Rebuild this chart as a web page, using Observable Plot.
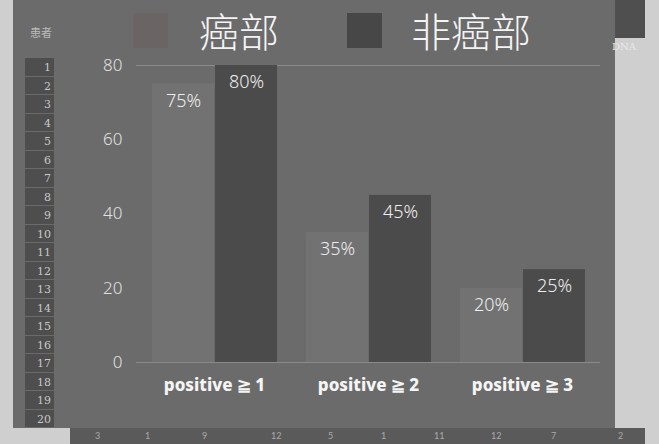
<!DOCTYPE html>
<html>
<head>
<meta charset="utf-8">
<script src="https://cdn.jsdelivr.net/npm/d3@7"></script>
<script src="https://cdn.jsdelivr.net/npm/@observablehq/plot@0.6"></script>
<style>
  html, body { margin: 0; padding: 0; }
  body { width: 659px; height: 444px; position: relative; overflow: hidden; background: #cfcfcf; font-family: Lato, "Open Sans", sans-serif; }
  .abs { position: absolute; }
  #panel { left: 13px; top: 0; width: 602px; height: 428px; background: #6b6b6b; }
  #rows { left: 25px; top: 58px; width: 29px; height: 370px; background: #4e4e4e; }
  #rows div { height: 18.5px; line-height: 19.5px; text-align: right; padding-right: 3px; font-size: 11px; color: #c8c8c8; border-bottom: 1px solid #6a6a6a; box-sizing: border-box; font-family: "DejaVu Serif", serif; }
  #head { left: 30px; top: 24px; font-size: 11px; color: #bbb; font-family: "Noto Sans CJK SC", sans-serif; }
  #bottom { left: 70px; top: 428px; width: 575px; height: 16px; background: #5a5a5a; }
  #bottom span { position: absolute; top: 2px; font-size: 9px; color: #aaa; }
  #dna { left: 615px; top: 0; width: 30px; height: 38px; background: #4f4f4f; }
  #dnat { left: 612px; top: 41px; font-size: 10px; color: #e8e8e8; font-family: "DejaVu Serif", serif; }
  #legend { left: 0; top: 0; width: 659px; height: 55px; }
  .sw { position: absolute; width: 35px; height: 35px; }
  .lt { position: absolute; top: 8px; font-size: 40px; line-height: 44px; white-space: nowrap; color: #f4f4f4; font-family: "Noto Sans CJK SC", sans-serif; font-weight: 300; }
  #chart { left: 0; top: 55px; }
</style>
</head>
<body>
<div id="panel" class="abs"></div>
<div id="head" class="abs">患者</div>
<div id="rows" class="abs"></div>
<div id="bottom" class="abs"></div>
<div id="dna" class="abs"></div>
<div id="dnat" class="abs">DNA</div>
<div id="legend" class="abs"></div>
<div id="chart" class="abs"></div>
<script>
// ---- data ----
const groups = ["positive ≧ 1", "positive ≧ 2", "positive ≧ 3"];
const series = ["癌部", "非癌部"];
const cancerValues = [75, 35, 20];
const nonCancerValues = [80, 45, 25];
const yTicks = [0, 20, 40, 60, 80];
const rowLabels = ["1","2","3","4","5","6","7","8","9","10","11","12","13","14","15","16","17","18","19","20"];
const bottomLabels = ["3","1","9","12","5","1","11","12","7","2"];

const colors = ["#727272", "#4b4b4b"];
const legendSwatchColors = ["#6a6464", "#474747"];

// background spreadsheet decoration
const rows = document.getElementById("rows");
rowLabels.forEach(t => { const d = document.createElement("div"); d.textContent = t; rows.appendChild(d); });
const bottom = document.getElementById("bottom");
const bottomX = [25, 75, 132, 201, 258, 311, 364, 421, 481, 548];
bottomLabels.forEach((t, i) => { const s = document.createElement("span"); s.textContent = t; s.style.left = bottomX[i] + "px"; bottom.appendChild(s); });

// legend
const legend = document.getElementById("legend");
const legendPos = [{sw: 133, tx: 199}, {sw: 347, tx: 411}];
series.forEach((s, i) => {
  const sw = document.createElement("div");
  sw.className = "sw"; sw.style.left = legendPos[i].sw + "px"; sw.style.top = "13px";
  sw.style.background = legendSwatchColors[i];
  legend.appendChild(sw);
  const t = document.createElement("div");
  t.className = "lt"; t.style.left = legendPos[i].tx + "px"; t.textContent = s;
  legend.appendChild(t);
});

const data = [];
groups.forEach((g, i) => {
  data.push({group: g, series: series[0], value: cancerValues[i]});
  data.push({group: g, series: series[1], value: nonCancerValues[i]});
});

const chart = Plot.plot({
  width: 659,
  height: 389,
  marginTop: 10,
  marginBottom: 82,
  marginLeft: 137,
  marginRight: 60,
  style: {background: "transparent", color: "#e6e6e6", overflow: "visible"},
  fx: {domain: groups, paddingInner: 0.17, paddingOuter: 0.085, label: null},
  x: {domain: series, padding: 0.02, axis: null},
  y: {domain: [0, 80], label: null, axis: null},
  color: {domain: series, range: colors},
  marks: [
    Plot.ruleY([0, 80], {stroke: "#8a8a8a", strokeWidth: 1, insetLeft: -14, insetRight: -14}),
    Plot.barY(data, {fx: "group", x: "series", y: "value", fill: "series"}),
    Plot.text(data, {fx: "group", x: "series", y: "value", text: d => d.value + "%", dy: 17, fill: "#eeeeee", fontSize: 18, fontWeight: 300}),
    Plot.axisY({ticks: yTicks, tickSize: 0, tickPadding: 28, fontSize: 17, fontWeight: 300, fill: "#e0e0e0", label: null}),
    Plot.axisFx({anchor: "bottom", tickSize: 0, tickPadding: 16, fontSize: 17, fontWeight: 800, fill: "#f5f5f5", label: null})
  ]
});
document.getElementById("chart").appendChild(chart);
</script>
</body>
</html>
